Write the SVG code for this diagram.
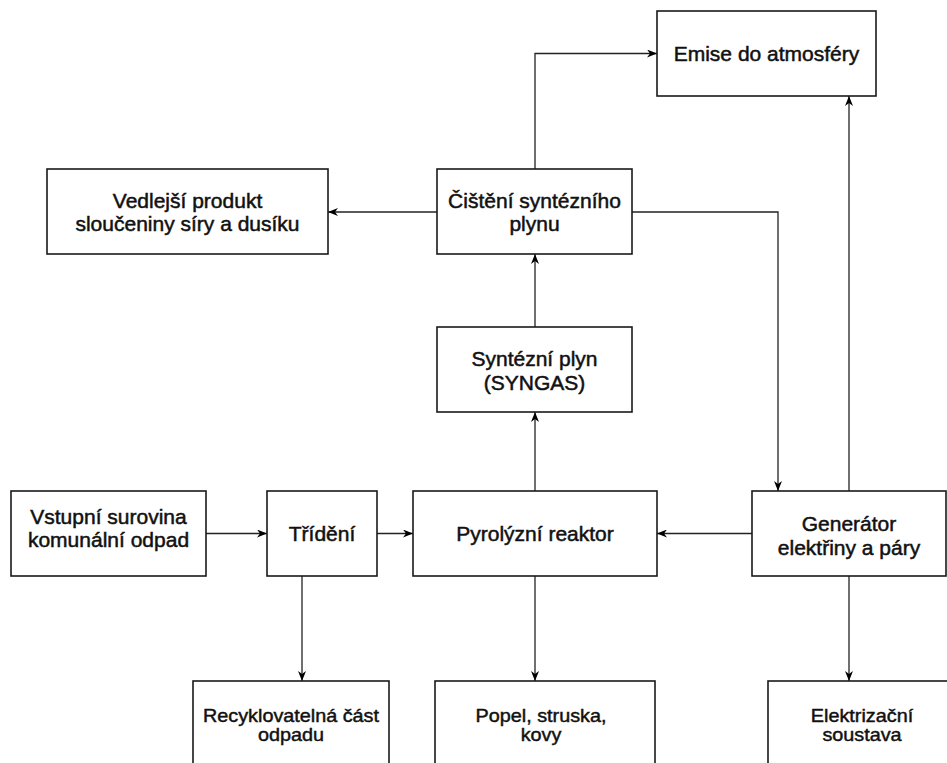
<svg xmlns="http://www.w3.org/2000/svg" width="947" height="763" viewBox="0 0 947 763">
  <defs>
    <marker id="arrow" viewBox="0 0 10 8" refX="10" refY="4" markerWidth="10" markerHeight="8" markerUnits="userSpaceOnUse" orient="auto">
      <path d="M0,0 L10,4 L0,8 L3,4 Z" fill="#000"/>
    </marker>
    <style>
      .box { fill: #fff; stroke: #1a1a1a; stroke-width: 1.6; }
      .lbl { font-family: "Liberation Sans", Arial, sans-serif; font-size: 21px; fill: #111; stroke: #111; stroke-width: 0.5; text-anchor: middle; }
      .sm { font-size: 18px; stroke-width: 0.45; }
      .edge { fill: none; stroke: #222; stroke-width: 1.3; marker-end: url(#arrow); }
    </style>
  </defs>
  <rect width="947" height="763" fill="#fff"/>

  <!-- connectors -->
  <g id="connectors">
    <path class="edge" d="M206,533.5 H267"/>
    <path class="edge" d="M377,533.5 H413"/>
    <path class="edge" d="M752,533.5 H657"/>
    <path class="edge" d="M535,491 V412"/>
    <path class="edge" d="M535,327 V254"/>
    <path class="edge" d="M535,169 V53.5 H657"/>
    <path class="edge" d="M437,212 H328"/>
    <path class="edge" d="M632,212 H778 V491"/>
    <path class="edge" d="M849,491 V96"/>
    <path class="edge" d="M302,576 V681"/>
    <path class="edge" d="M535,576 V681"/>
    <path class="edge" d="M849,576 V681"/>
  </g>

  <!-- nodes -->
  <g id="emise">
    <rect class="box" x="657" y="11" width="219" height="85"/>
    <text class="lbl" x="766.5" y="61">Emise do atmosféry</text>
  </g>
  <g id="vedlejsi">
    <rect class="box" x="47" y="169" width="281" height="85"/>
    <text class="lbl" x="187.5" y="207.5">Vedlejší produkt</text>
    <text class="lbl" x="187.5" y="231">sloučeniny síry a dusíku</text>
  </g>
  <g id="cisteni">
    <rect class="box" x="437" y="169" width="195" height="85"/>
    <text class="lbl" x="534.5" y="207.5">Čištění syntézního</text>
    <text class="lbl" x="534.5" y="231">plynu</text>
  </g>
  <g id="syngas">
    <rect class="box" x="437" y="327" width="195" height="85"/>
    <text class="lbl" x="534.5" y="366">Syntézní plyn</text>
    <text class="lbl" x="534.5" y="390">(SYNGAS)</text>
  </g>
  <g id="vstup">
    <rect class="box" x="11" y="491" width="195" height="85"/>
    <text class="lbl" x="108.5" y="524">Vstupní surovina</text>
    <text class="lbl" x="108.5" y="547">komunální odpad</text>
  </g>
  <g id="trideni">
    <rect class="box" x="267" y="491" width="110" height="85"/>
    <text class="lbl" x="322" y="541">Třídění</text>
  </g>
  <g id="reaktor">
    <rect class="box" x="413" y="491" width="244" height="85"/>
    <text class="lbl" x="535" y="541">Pyrolýzní reaktor</text>
  </g>
  <g id="generator">
    <rect class="box" x="752" y="491" width="194" height="85"/>
    <text class="lbl" x="849" y="531">Generátor</text>
    <text class="lbl" x="849" y="555">elektřiny a páry</text>
  </g>
  <!-- bottom row: labels are set wider than their height -->
  <g id="recyklace">
    <rect class="box" x="193" y="681" width="196" height="100"/>
    <g transform="translate(291,0) scale(1.1,1)">
      <text class="lbl sm" x="0" y="722">Recyklovatelná část</text>
      <text class="lbl sm" x="0" y="741.5">odpadu</text>
    </g>
  </g>
  <g id="popel">
    <rect class="box" x="435" y="681" width="220" height="100"/>
    <g transform="translate(541,0) scale(1.1,1)">
      <text class="lbl sm" x="0" y="722">Popel, struska,</text>
      <text class="lbl sm" x="0" y="741.5">kovy</text>
    </g>
  </g>
  <g id="elektrizace">
    <rect class="box" x="768" y="681" width="190" height="100"/>
    <g transform="translate(862,0) scale(1.1,1)">
      <text class="lbl sm" x="0" y="722">Elektrizační</text>
      <text class="lbl sm" x="0" y="741.5">soustava</text>
    </g>
  </g>
</svg>
